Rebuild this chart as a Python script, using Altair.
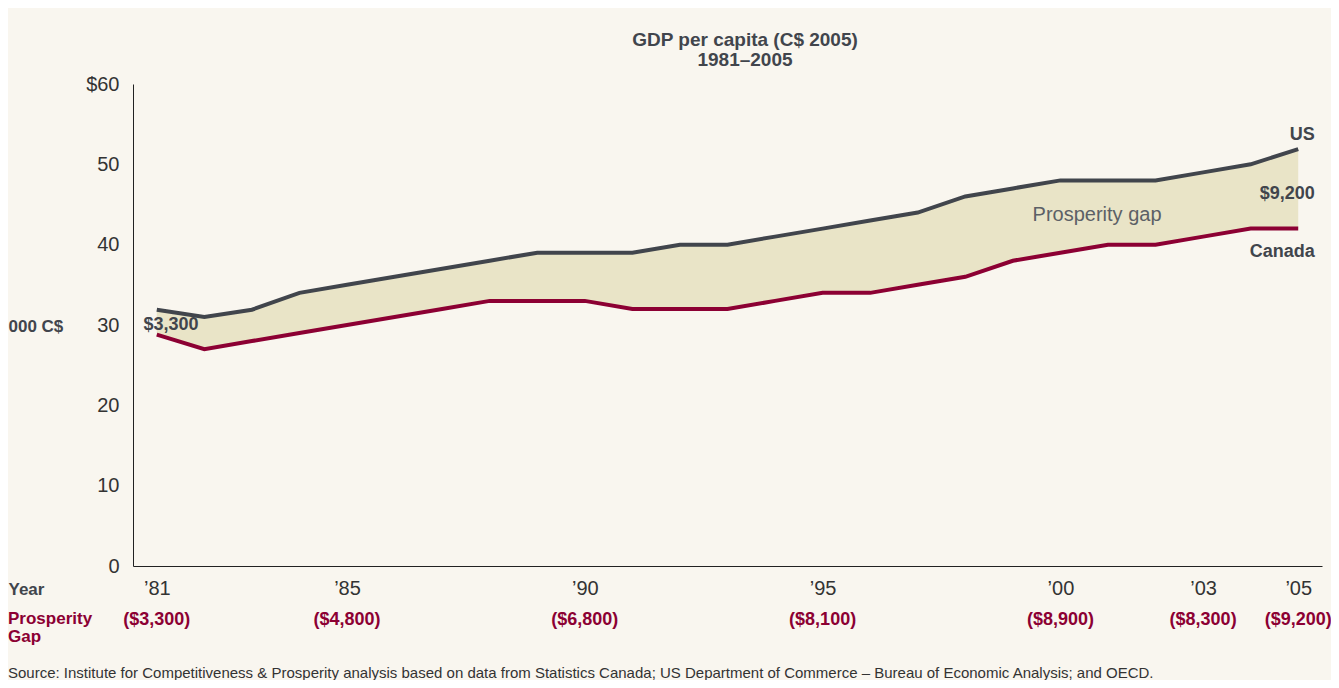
import altair as alt
import pandas as pd

years = list(range(1981, 2006))
us = [31.9, 31.0, 31.9, 34.0, 35.0, 36.0, 37.0, 38.0, 39.0, 39.0, 39.0, 40.0, 40.0,
      41.0, 42.0, 43.0, 44.0, 46.0, 47.0, 48.0, 48.0, 48.0, 49.0, 50.0, 51.9]
canada = [28.8, 27.0, 28.0, 29.0, 30.0, 31.0, 32.0, 33.0, 33.0, 33.0, 32.0, 32.0, 32.0,
          33.0, 34.0, 34.0, 35.0, 36.0, 38.0, 39.0, 40.0, 40.0, 41.0, 42.0, 42.0]

tick_years = [1981, 1985, 1990, 1995, 2000, 2003, 2005]
tick_labels = ["\u201981", "\u201985", "\u201990", "\u201995", "\u201900", "\u201903", "\u201905"]
gap_labels = ["($3,300)", "($4,800)", "($6,800)", "($8,100)", "($8,900)", "($8,300)", "($9,200)"]

y_ticks = [0, 10, 20, 30, 40, 50, 60]

# in-plot annotations (year, value, text)
ann_c_year = [1981.3]
ann_c_val = [30.0]
ann_c_text = ["$3,300"]
ann_r_year = [2005.35, 2005.35, 2005.35]
ann_r_val = [53.7, 46.3, 39.1]
ann_r_text = ["US", "$9,200", "Canada"]

DARK = "#41454c"
RED = "#8c0033"
FILL = "#e9e4c7"
BG = "#f9f6ef"
FONT = "Liberation Sans"

df = pd.DataFrame({"year": years, "us": us, "canada": canada})
ticks_df = pd.DataFrame({"year": tick_years, "label": tick_labels, "gap": gap_labels})
annc_df = pd.DataFrame({"year": ann_c_year, "val": ann_c_val, "text": ann_c_text})
annr_df = pd.DataFrame({"year": ann_r_year, "val": ann_r_val, "text": ann_r_text})

label_expr = "{" + ",".join(f"'{y}':'{l}'" for y, l in zip(tick_years, tick_labels)) + "}[datum.value]"

xscale = alt.Scale(domain=[1980.5, 2005.5], nice=False, zero=False)
yscale = alt.Scale(domain=[0, 60], nice=False)

x_axis = alt.Axis(values=tick_years, labelExpr=label_expr, ticks=False, grid=False,
                  domainColor="#222222", domainWidth=1, labelFontSize=20, labelColor="#333333",
                  labelFont=FONT, labelPadding=12, labelFlush=False,
                  title="Year", titleFont=FONT, titleFontSize=17, titleFontWeight="bold",
                  titleColor=DARK, titleAnchor="start", titleAlign="left", titleBaseline="middle",
                  titleX=-125, titleY=23, titleAngle=0)
y_axis = alt.Axis(values=y_ticks, labelExpr="datum.value == 60 ? '$60' : datum.value",
                  ticks=False, grid=False, domainColor="#222222", domainWidth=1,
                  labelFontSize=20, labelColor="#333333", labelFont=FONT, labelPadding=14,
                  title="000 C$", titleFont=FONT, titleFontSize=17, titleFontWeight="bold",
                  titleColor=DARK, titleAngle=0, titleAlign="left", titleBaseline="middle",
                  titleX=-125, titleY=242)

base = alt.Chart(df)

area = base.mark_area(color=FILL, opacity=1).encode(
    x=alt.X("year:Q", scale=xscale, axis=x_axis),
    y=alt.Y("us:Q", scale=yscale, axis=y_axis),
    y2="canada:Q",
)
us_line = base.mark_line(color=DARK, strokeWidth=4, strokeJoin="miter").encode(
    x="year:Q", y="us:Q")
ca_line = base.mark_line(color=RED, strokeWidth=4, strokeJoin="miter").encode(
    x="year:Q", y="canada:Q")

ann_c = alt.Chart(annc_df).mark_text(
    font=FONT, fontSize=18, fontWeight="bold", color=DARK, baseline="middle", align="center"
).encode(x="year:Q", y="val:Q", text="text:N")
ann_r = alt.Chart(annr_df).mark_text(
    font=FONT, fontSize=18, fontWeight="bold", color=DARK, baseline="middle", align="right"
).encode(x="year:Q", y="val:Q", text="text:N")

gap_label_df = pd.DataFrame({"year": [2000.77], "val": [43.7], "text": ["Prosperity gap"]})
gap_txt = alt.Chart(gap_label_df).mark_text(
    font=FONT, fontSize=20, color="#5c6066", baseline="middle", align="center"
).encode(x="year:Q", y="val:Q", text="text:N")

gap_row = alt.Chart(ticks_df).mark_text(
    font=FONT, fontSize=18, fontWeight="bold", color=RED, baseline="middle", align="center"
).encode(x="year:Q", y=alt.value(536), text="gap:N")

pg1 = alt.Chart(pd.DataFrame({"t": ["Prosperity"]})).mark_text(
    font=FONT, fontSize=17, fontWeight="bold", color=RED, baseline="middle", align="left"
).encode(x=alt.value(-125), y=alt.value(535), text="t:N")
pg2 = alt.Chart(pd.DataFrame({"t": ["Gap"]})).mark_text(
    font=FONT, fontSize=17, fontWeight="bold", color=RED, baseline="middle", align="left"
).encode(x=alt.value(-125), y=alt.value(553), text="t:N")

t1 = alt.Chart(pd.DataFrame({"t": ["GDP per capita (C$ 2005)"]})).mark_text(
    font=FONT, fontSize=19, fontWeight="bold", color=DARK, baseline="middle", align="center"
).encode(x=alt.value(612), y=alt.value(-44), text="t:N")
t2 = alt.Chart(pd.DataFrame({"t": ["1981\u20132005"]})).mark_text(
    font=FONT, fontSize=19, fontWeight="bold", color=DARK, baseline="middle", align="center"
).encode(x=alt.value(612), y=alt.value(-24), text="t:N")

src_df = pd.DataFrame({"t": ["Source: Institute for Competitiveness & Prosperity analysis based on data from Statistics Canada; US Department of Commerce \u2013 Bureau of Economic Analysis; and OECD."]})
src = alt.Chart(src_df).mark_text(
    font=FONT, fontSize=15, color="#333333", baseline="middle", align="left"
).encode(x=alt.value(-125), y=alt.value(589), text="t:N")

chart = alt.layer(area, us_line, ca_line, ann_c, ann_r, gap_txt, gap_row, pg1, pg2, t1, t2, src).properties(
    width=1189, height=482,
    background=BG,
    padding={"left": 125, "top": 76, "right": 9, "bottom": 114},
    autosize=alt.AutoSizeParams(type="none"),
).configure_view(stroke=None)

chart.save("out.html", embed_options={"renderer": "svg", "actions": False})
